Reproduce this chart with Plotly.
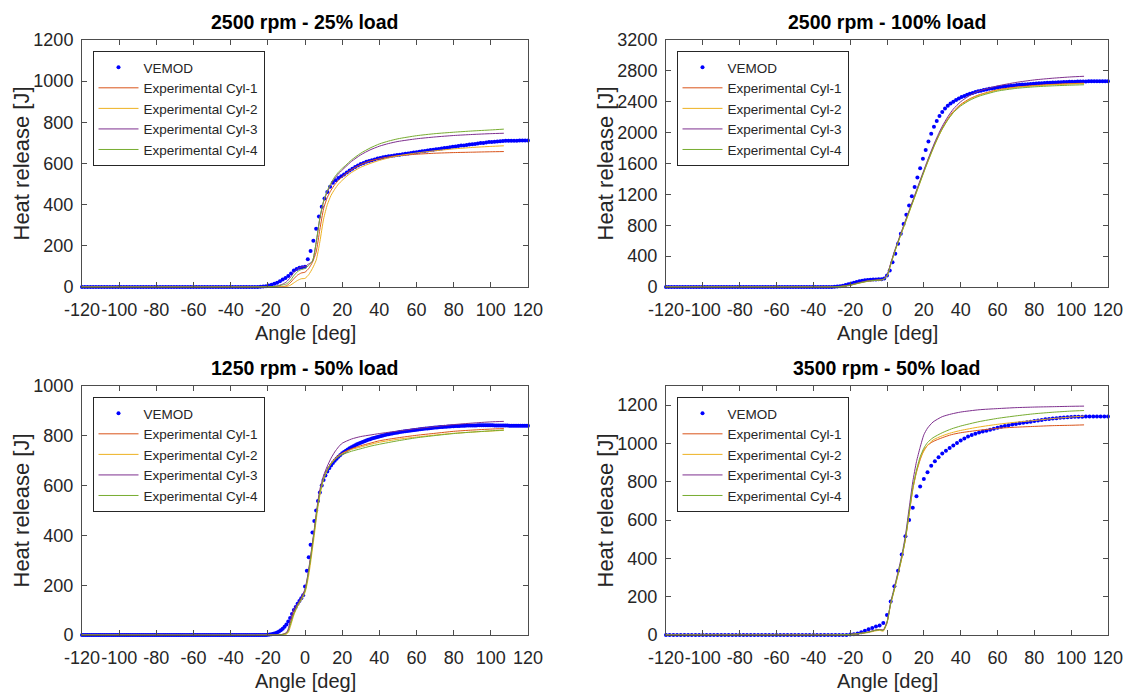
import numpy as np
import plotly.graph_objects as go

FONT = "Arial, Liberation Sans, sans-serif"
AXIS_COLOR = "#4d4d4d"
TEXT_COLOR = "#262626"

TITLES = ["2500 rpm - 25% load", "2500 rpm - 100% load",
          "1250 rpm - 50% load", "3500 rpm - 50% load"]
SERIES_NAMES = ["VEMOD", "Experimental Cyl-1", "Experimental Cyl-2",
                "Experimental Cyl-3", "Experimental Cyl-4"]
CYL_COLORS = ["#d95319", "#edb120", "#7e2f8e", "#77ac30"]
X_LABEL = "Angle [deg]"
Y_LABEL = "Heat release [J]"

X_TICKS = [-120, -100, -80, -60, -40, -20, 0, 20, 40, 60, 80, 100, 120]
X_TICK_TEXT = ["-120", "-100", "-80", "-60", "-40", "-20", "0",
               "20", "40", "60", "80", "100", "120"]

# ---------------- 2500 rpm - 25% load ----------------
VEMOD_ANGLE_1 = np.arange(-120, 120.001, 1.5)
VEMOD_1 = [
    0, 0, 0, 0, 0, 0, 0, 0, 0, 0,
    0, 0, 0, 0, 0, 0, 0, 0, 0, 0,
    0, 0, 0, 0, 0, 0, 0, 0, 0, 0,
    0, 0, 0, 0, 0, 0, 0, 0, 0, 0,
    0, 0, 0, 0, 0, 0, 0, 0, 0, 0,
    0, 0, 0, 0, 0, 0, 0, 0, 0, 0,
    0, 0, 0, 0,
    1, 2, 4, 7, 11, 16, 21, 28, 37, 44,
    54, 66, 80, 88, 93, 96, 98, 135, 175, 225,
    283, 343, 390, 430, 462, 487, 506, 519, 529, 538,
    547, 556, 566, 575, 583, 590, 597, 603, 608, 612,
    616, 620, 624, 627, 630, 633, 635, 637, 639, 641,
    643, 645, 647, 649, 651, 653, 655, 657, 659, 661,
    663, 665, 667, 669, 671, 673, 675, 677, 679, 681,
    683, 685, 687, 688, 690, 692, 694, 695, 697, 699,
    700, 702, 704, 705, 706, 707, 708, 709, 710, 710,
    711, 711, 711, 712, 712, 712, 712,
]
EXP_ANGLE_1 = [-120, -30, -20, -15, -12, -10, -8, -6, -4, -2, 0, 2, 4, 6, 8, 10, 12,
               14, 16, 18, 20, 22, 25, 30, 35, 40, 45, 50, 60, 70, 80, 90, 100, 107]
CYL1_1 = [0, 0, 0, 0, 2, 6, 20, 40, 58, 68, 72, 90, 120, 170, 280, 380, 435,
          470, 497, 518, 535, 550, 570, 595, 612, 623, 632, 638, 645, 650, 653, 655, 657, 658]
CYL2_1 = [0, 0, 0, 0, 0, 2, 8, 20, 32, 40, 42, 60, 90, 130, 220, 330, 400,
          445, 475, 500, 518, 535, 556, 582, 600, 615, 627, 637, 651, 662, 671, 678, 683, 686]
CYL3_1 = [0, 0, 1, 5, 14, 25, 45, 70, 88, 97, 100, 112, 125, 215, 335, 415, 462,
          498, 527, 550, 568, 585, 610, 642, 666, 684, 697, 707, 720, 729, 736, 741, 745, 747]
CYL4_1 = [0, 0, 1, 4, 10, 15, 30, 55, 75, 85, 90, 105, 125, 215, 335, 418, 468,
          505, 535, 558, 576, 592, 617, 650, 675, 695, 709, 720, 735, 745, 752, 758, 763, 767]

# ---------------- 2500 rpm - 100% load ----------------
VEMOD_ANGLE_2 = np.arange(-120, 120.001, 1.5)
VEMOD_2 = [
    0, 0, 0, 0, 0, 0, 0, 0, 0, 0,
    0, 0, 0, 0, 0, 0, 0, 0, 0, 0,
    0, 0, 0, 0, 0, 0, 0, 0, 0, 0,
    0, 0, 0, 0, 0, 0, 0, 0, 0, 0,
    0, 0, 0, 0, 0, 0, 0, 0, 0, 0,
    0, 0, 0, 0, 0, 0, 0, 0, 0, 0,
    0,
    2, 5, 10, 17, 25, 35, 45, 55, 65, 75,
    82, 88, 92, 95, 97, 98, 99, 100, 110, 150,
    215, 320, 432, 560, 690, 815, 935, 1055, 1175, 1295,
    1420, 1540, 1660, 1775, 1885, 1985, 2075, 2150, 2215, 2268,
    2312, 2348, 2377, 2400, 2423, 2443, 2460, 2476, 2490, 2503,
    2514, 2525, 2535, 2544, 2552, 2560, 2567, 2573, 2579, 2585,
    2590, 2595, 2600, 2604, 2608, 2612, 2616, 2619, 2622, 2625,
    2628, 2631, 2634, 2636, 2639, 2641, 2643, 2645, 2647, 2649,
    2651, 2652, 2654, 2655, 2657, 2658, 2659, 2660, 2661, 2662,
    2663, 2663, 2664, 2664, 2665, 2665, 2665, 2665, 2665, 2665,
]
EXP_ANGLE_2 = [-120, -35, -30, -25, -20, -15, -10, -5, -2, 0, 2, 4, 6, 8, 10, 12, 14, 16,
               18, 20, 22, 24, 26, 28, 30, 33, 36, 40, 45, 50, 60, 70, 80, 90, 100, 107]
CYL1_2 = [0, 0, 1, 8, 25, 55, 80, 90, 100, 150, 300, 450, 585, 720, 850, 980, 1110, 1240,
          1370, 1500, 1625, 1745, 1860, 1965, 2060, 2180, 2275, 2365, 2440, 2490, 2555, 2590,
          2610, 2625, 2635, 2640]
CYL2_2 = [0, 0, 1, 6, 22, 50, 75, 87, 97, 140, 285, 440, 575, 705, 835, 965, 1095, 1225,
          1355, 1485, 1610, 1730, 1845, 1950, 2045, 2165, 2262, 2355, 2432, 2484, 2550, 2585,
          2605, 2620, 2630, 2635]
CYL3_2 = [0, 0, 2, 10, 28, 58, 82, 92, 102, 155, 305, 460, 595, 728, 860, 990, 1120, 1252,
          1383, 1512, 1640, 1762, 1878, 1985, 2082, 2205, 2305, 2400, 2482, 2540, 2605, 2650,
          2683, 2705, 2722, 2730]
CYL4_2 = [0, 0, 1, 7, 24, 52, 78, 88, 98, 145, 290, 445, 580, 710, 840, 970, 1100, 1230,
          1360, 1490, 1615, 1735, 1850, 1955, 2048, 2165, 2258, 2345, 2420, 2472, 2538, 2573,
          2593, 2606, 2615, 2620]

# ---------------- 1250 rpm - 50% load ----------------
VEMOD_ANGLE_3 = np.arange(-120, 120.001, 1.0)
VEMOD_3 = [
    0, 0, 0, 0, 0, 0, 0, 0, 0, 0,
    0, 0, 0, 0, 0, 0, 0, 0, 0, 0,
    0, 0, 0, 0, 0, 0, 0, 0, 0, 0,
    0, 0, 0, 0, 0, 0, 0, 0, 0, 0,
    0, 0, 0, 0, 0, 0, 0, 0, 0, 0,
    0, 0, 0, 0, 0, 0, 0, 0, 0, 0,
    0, 0, 0, 0, 0, 0, 0, 0, 0, 0,
    0, 0, 0, 0, 0, 0, 0, 0, 0, 0,
    0, 0, 0, 0, 0, 0, 0, 0, 0, 0,
    0, 0, 0, 0, 0, 0, 0, 0, 0, 0,
    1, 2, 3, 5, 7, 10, 14, 19, 25, 33,
    42, 54, 68, 84, 100, 112, 125, 137, 148, 160,
    195, 258, 312, 362, 412, 458, 500, 538, 572, 600,
    622, 641, 657, 670, 681, 691, 700, 708, 716, 723,
    730, 735, 740, 745, 750, 754, 758, 762, 766, 769,
    772, 775, 778, 781, 784, 786, 789, 791, 793, 795,
    797, 799, 801, 803, 805, 806, 808, 809, 811, 812,
    813, 815, 816, 817, 818, 819, 820, 821, 822, 823,
    824, 825, 826, 827, 828, 829, 829, 830, 831, 832,
    833, 833, 834, 835, 835, 836, 836, 837, 837, 838,
    838, 839, 839, 839, 840, 840, 840, 841, 841, 841,
    841, 841, 841, 842, 842, 842, 842, 842, 842, 842,
    842, 842, 841, 841, 841, 841, 841, 841, 841, 841,
    840, 840, 840, 840, 840, 840, 840, 840, 840, 840,
    840,
]
EXP_ANGLE_3 = [-120, -14, -12, -10, -9, -8, -6, -4, -2, 0, 1, 2, 3, 4, 5, 6, 7, 8, 10,
               12, 14, 16, 18, 20, 25, 30, 35, 40, 50, 60, 70, 80, 90, 100, 107]
CYL1_3 = [0, 0, 3, 8, 20, 45, 90, 120, 145, 180, 215, 260, 310, 365, 420, 480, 530, 575, 630,
          665, 690, 708, 721, 730, 748, 760, 770, 780, 792, 802, 810, 818, 823, 827, 829]
CYL2_3 = [0, 0, 0, 3, 10, 30, 80, 115, 140, 170, 200, 240, 290, 345, 400, 460, 515, 560, 625,
          662, 688, 706, 719, 728, 745, 755, 765, 774, 786, 795, 803, 810, 815, 819, 822]
CYL3_3 = [0, 0, 3, 10, 25, 55, 105, 125, 150, 185, 220, 265, 315, 370, 425, 485, 540, 585, 640,
          678, 710, 735, 755, 770, 787, 797, 803, 809, 819, 829, 837, 845, 851, 856, 858]
CYL4_3 = [0, 0, 2, 6, 15, 38, 85, 118, 143, 175, 210, 255, 305, 360, 415, 475, 525, 570, 627,
          662, 686, 703, 715, 724, 738, 748, 758, 766, 780, 792, 801, 809, 815, 820, 823]

# ---------------- 3500 rpm - 50% load ----------------
VEMOD_ANGLE_4 = np.arange(-120, 120.001, 2.0)
VEMOD_4 = [
    0, 0, 0, 0, 0, 0, 0, 0, 0, 0,
    0, 0, 0, 0, 0, 0, 0, 0, 0, 0,
    0, 0, 0, 0, 0, 0, 0, 0, 0, 0,
    0, 0, 0, 0, 0, 0, 0, 0, 0, 0,
    0, 0, 0, 0, 0, 0, 0, 0, 0, 0,
    2, 4, 8, 15, 22, 30, 37, 44, 50, 62,
    105, 175, 255, 335, 420, 515, 600, 665, 725, 775,
    815, 850, 883, 907, 928, 947, 962, 976, 990, 1003,
    1015, 1026, 1036, 1044, 1051, 1057, 1062, 1067, 1072, 1077,
    1082, 1087, 1091, 1095, 1099, 1102, 1105, 1108, 1111, 1114,
    1117, 1120, 1123, 1126, 1128, 1130, 1132, 1134, 1136, 1137,
    1138, 1139, 1140, 1140, 1141, 1141, 1141, 1141, 1141, 1141,
    1141,
]
EXP_ANGLE_4 = [-120, -30, -20, -15, -10, -6, -4, -2, 0, 2, 4, 6, 8, 10, 12, 14, 16, 18,
               20, 22, 25, 30, 35, 40, 50, 60, 70, 80, 90, 100, 107]
CYL1_4 = [0, 0, 3, 8, 16, 26, 28, 26, 70, 165, 240, 320, 400, 500, 630, 760, 850, 915,
          965, 990, 1010, 1030, 1046, 1056, 1069, 1079, 1085, 1089, 1093, 1095, 1097]
CYL2_4 = [0, 0, 2, 6, 13, 22, 24, 20, 60, 160, 235, 315, 400, 500, 630, 760, 855, 920,
          960, 990, 1018, 1040, 1056, 1068, 1086, 1100, 1111, 1120, 1130, 1138, 1143]
CYL3_4 = [0, 0, 3, 8, 16, 26, 29, 27, 65, 170, 250, 330, 415, 520, 660, 800, 905, 980,
          1045, 1080, 1112, 1140, 1154, 1164, 1176, 1182, 1187, 1190, 1192, 1194, 1195]
CYL4_4 = [0, 0, 3, 8, 15, 25, 27, 24, 65, 165, 240, 320, 405, 505, 638, 770, 860, 930,
          975, 1005, 1030, 1056, 1076, 1091, 1114, 1131, 1144, 1155, 1163, 1169, 1172]

Y_RANGES = [[0, 1200], [0, 3200], [0, 1000], [0, 1300]]
Y_DTICKS = [200, 400, 200, 200]

panels = [
    (VEMOD_ANGLE_1, VEMOD_1, EXP_ANGLE_1, [CYL1_1, CYL2_1, CYL3_1, CYL4_1]),
    (VEMOD_ANGLE_2, VEMOD_2, EXP_ANGLE_2, [CYL1_2, CYL2_2, CYL3_2, CYL4_2]),
    (VEMOD_ANGLE_3, VEMOD_3, EXP_ANGLE_3, [CYL1_3, CYL2_3, CYL3_3, CYL4_3]),
    (VEMOD_ANGLE_4, VEMOD_4, EXP_ANGLE_4, [CYL1_4, CYL2_4, CYL3_4, CYL4_4]),
]

W, H = 1136, 697
# pixel boxes of the four axes (left, right, top, bottom)
boxes = [(82, 528, 40, 287), (666, 1108, 40, 287),
         (82, 528, 386, 635), (666, 1108, 386, 635)]


def px(x, y):
    """pixel position -> paper fraction"""
    return x / W, 1 - y / H


fig = go.Figure()
layout = dict(
    width=W, height=H,
    margin=dict(l=0, r=0, t=0, b=0, autoexpand=False),
    paper_bgcolor="white", plot_bgcolor="white",
    font=dict(family=FONT, color=TEXT_COLOR, size=17),
    annotations=[],
)

for i, (vx, vy, ex, cyls) in enumerate(panels):
    assert len(vx) == len(vy), (i, len(vx), len(vy))
    for c in cyls:
        assert len(c) == len(ex), (i, len(c), len(ex))
    n = "" if i == 0 else str(i + 1)
    xa, ya, lg = "x" + n, "y" + n, "legend" + n

    fig.add_trace(go.Scatter(
        x=vx, y=vy, mode="markers", name=SERIES_NAMES[0],
        marker=dict(color="#0000ff", size=4), cliponaxis=False,
        xaxis=xa, yaxis=ya, legend=lg,
    ))
    for k, c in enumerate(cyls):
        fig.add_trace(go.Scatter(
            x=ex, y=c, mode="lines", name=SERIES_NAMES[k + 1],
            line=dict(color=CYL_COLORS[k], width=1, shape="spline", smoothing=0.6),
            xaxis=xa, yaxis=ya, legend=lg,
        ))

    left, right, top, bottom = boxes[i]
    common = dict(showline=True, linecolor=AXIS_COLOR, linewidth=1, mirror="ticks",
                  ticks="inside", ticklen=5, tickcolor=AXIS_COLOR, showgrid=False,
                  zeroline=False, automargin=False,
                  tickfont=dict(size=18, color=TEXT_COLOR))
    layout["xaxis" + n] = dict(
        domain=[left / W, right / W], anchor=ya, range=[-120, 120],
        tickvals=X_TICKS, ticktext=X_TICK_TEXT, tickangle=0, ticklabelstandoff=6,
        **common)
    layout["yaxis" + n] = dict(
        domain=[1 - bottom / H, 1 - top / H], anchor=xa, range=Y_RANGES[i],
        dtick=Y_DTICKS[i], tick0=0, ticklabelstandoff=4, **common)
    lx, ly = px(left + 10.5, top + 11)
    layout[lg] = dict(
        x=lx, y=ly, xanchor="left", yanchor="top",
        bgcolor="white", bordercolor="#262626", borderwidth=1,
        font=dict(size=13.5, color=TEXT_COLOR), itemwidth=40,
        tracegroupgap=0,
    )
    cx = (left + right) / 2
    # panel title, x label and y label
    tx, ty = px(cx, top - 18)
    layout["annotations"].append(dict(
        text="<b>" + TITLES[i] + "</b>", xref="paper", yref="paper",
        x=tx, y=ty, xanchor="center", yanchor="middle", showarrow=False,
        font=dict(size=19.5, color="black"),
    ))
    ax, ay = px(cx, bottom + 46)
    layout["annotations"].append(dict(
        text=X_LABEL, xref="paper", yref="paper", x=ax, y=ay,
        xanchor="center", yanchor="middle", showarrow=False, font=dict(size=20),
    ))
    bx, by = px(left - 61, (top + bottom) / 2)
    layout["annotations"].append(dict(
        text=Y_LABEL, xref="paper", yref="paper", x=bx, y=by, textangle=-90,
        xanchor="center", yanchor="middle", showarrow=False, font=dict(size=22),
    ))

fig.update_layout(**layout)
fig.write_html("out.html", config={"displayModeBar": False},
               post_script="document.body.style.margin = '0';")
